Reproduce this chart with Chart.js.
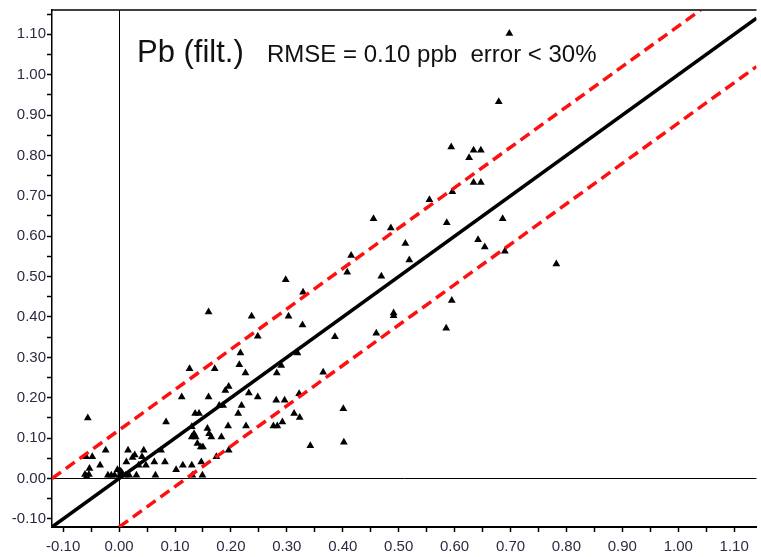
<!DOCTYPE html>
<html>
<head>
<meta charset="utf-8">
<script src="https://cdn.jsdelivr.net/npm/chart.js@4.4.1/dist/chart.umd.min.js"></script>
<style>
  html, body { margin: 0; padding: 0; background: #fff; }
  #wrap { position: relative; width: 761px; height: 557px; }
</style>
</head>
<body>
<div id="wrap"><canvas id="pb"></canvas></div>
<script>
// mesure (x) / modèle (y), en ppb
var measured = [
  -0.056, -0.059, -0.048, -0.053, -0.061, -0.054, -0.058, -0.034, -0.024, -0.020,
  -0.014, -0.008, -0.003, 0.003, 0.001, 0.006, 0.012, 0.018, 0.016, 0.013,
  0.028, 0.024, 0.031, 0.044, 0.041, 0.035, 0.048, 0.065, 0.063, 0.075,
  0.082, 0.084, 0.102, 0.114, 0.112, 0.130, 0.131, 0.149, 0.147, 0.126,
  0.136, 0.143, 0.130, 0.134, 0.130, 0.137, 0.140, 0.146, 0.150, 0.160,
  0.160, 0.158, 0.161, 0.165, 0.174, 0.171, 0.183, 0.179, 0.186, 0.190,
  0.196, 0.195, 0.196, 0.213, 0.219, 0.217, 0.215, 0.226, 0.227, 0.232,
  0.237, 0.248, 0.248, 0.276, 0.283, 0.282, 0.281, 0.290, 0.292, 0.296,
  0.298, 0.303, 0.313, 0.323, 0.319, 0.328, 0.329, 0.322, 0.342, 0.365,
  0.386, 0.401, 0.402, 0.460, 0.408, 0.415, 0.455, 0.469, 0.486, 0.491,
  0.491, 0.512, 0.519, 0.555, 0.585, 0.586, 0.595, 0.596, 0.594, 0.626,
  0.634, 0.647, 0.634, 0.647, 0.642, 0.654, 0.686, 0.690, 0.679, 0.698,
  0.782
];
var modelled = [
  0.150, 0.054, 0.054, 0.025, 0.010, 0.010, 0.005, 0.033, 0.070, 0.008,
  0.008, 0.008, 0.022, 0.018, 0.008, 0.012, 0.008, 0.008, 0.070, 0.041,
  0.058, 0.052, 0.008, 0.070, 0.054, 0.033, 0.033, 0.008, 0.041, 0.070,
  0.041, 0.140, 0.022, 0.033, 0.202, 0.033, 0.008, 0.008, 0.041, 0.272,
  0.161, 0.161, 0.128, 0.111, 0.103, 0.103, 0.087, 0.078, 0.078, 0.412,
  0.202, 0.124, 0.111, 0.103, 0.054, 0.272, 0.103, 0.181, 0.181, 0.218,
  0.228, 0.130, 0.070, 0.161, 0.181, 0.311, 0.282, 0.261, 0.130, 0.212,
  0.402, 0.352, 0.202, 0.130, 0.130, 0.261, 0.194, 0.280, 0.140, 0.194,
  0.492, 0.402, 0.161, 0.151, 0.311, 0.380, 0.461, 0.210, 0.081, 0.263,
  0.351, 0.173, 0.090, 0.360, 0.511, 0.552, 0.643, 0.501, 0.620, 0.410,
  0.403, 0.582, 0.541, 0.690, 0.372, 0.633, 0.441, 0.710, 0.821, 0.794,
  0.813, 0.813, 0.733, 0.733, 0.591, 0.573, 0.643, 0.563, 0.933, 1.102,
  0.531
];

var xTicks = [-0.10, -0.05, 0.00, 0.05, 0.10, 0.15, 0.20, 0.25, 0.30, 0.35, 0.40, 0.45,
  0.50, 0.55, 0.60, 0.65, 0.70, 0.75, 0.80, 0.85, 0.90, 0.95, 1.00, 1.05, 1.10];
var yTicks = [-0.10, -0.05, 0.00, 0.05, 0.10, 0.15, 0.20, 0.25, 0.30, 0.35, 0.40, 0.45,
  0.50, 0.55, 0.60, 0.65, 0.70, 0.75, 0.80, 0.85, 0.90, 0.95, 1.00, 1.05, 1.10, 1.15];

var xMin = -0.12, xMax = 1.14, yMin = -0.12, yMax = 1.16;
var bandOffset = 0.12; // bandes +/- autour de la droite 1:1

/*------------------------------------*\
     Points et droites
\*------------------------------------*/
var points = measured.map(function(x, i) {
  return { x: x, y: modelled[i] };
});

function lineFor(offset) {
  // droite y = x + offset, bornée au cadre
  var x0 = Math.max(xMin, yMin - offset);
  var x1 = Math.min(xMax, yMax - offset);
  return [{ x: x0, y: x0 + offset }, { x: x1, y: x1 + offset }];
}

function labelFor(v) {
  var c = Math.round(v * 100);
  return (c % 10 === 0) ? (c / 100).toFixed(2) : '';
}

function zeroLine(ctx) {
  return (ctx.tick && Math.abs(ctx.tick.value) < 1e-9) ? '#000' : 'rgba(0,0,0,0)';
}

var frameAndTitle = {
  id: 'frameAndTitle',
  afterDraw: function(chart) {
    var c = chart.ctx, a = chart.chartArea;
    c.save();
    c.strokeStyle = '#000';
    c.lineWidth = 1.5;
    c.beginPath();
    c.moveTo(a.left, a.top);
    c.lineTo(a.right, a.top);
    c.stroke();
    c.fillStyle = '#111';
    c.textBaseline = 'alphabetic';
    c.font = '31px "Liberation Sans", Arial, sans-serif';
    c.fillText('Pb (filt.)', 137, 62);
    c.font = '24px "Liberation Sans", Arial, sans-serif';
    c.fillText('RMSE = 0.10 ppb  error < 30%', 267, 62);
    c.restore();
  }
};

var tickFont = { family: '"Liberation Sans", Arial, sans-serif', size: 15 };

new Chart(document.getElementById('pb').getContext('2d'), {
  type: 'scatter',
  data: {
    datasets: [{
      data: lineFor(0),
      showLine: true,
      borderColor: '#000',
      borderWidth: 3.5,
      pointRadius: 0,
      order: 1
    }, {
      data: lineFor(bandOffset),
      showLine: true,
      borderColor: '#ff1010',
      borderWidth: 3.5,
      borderDash: [11, 6],
      pointRadius: 0,
      order: 2
    }, {
      data: lineFor(-bandOffset),
      showLine: true,
      borderColor: '#ff1010',
      borderWidth: 3.5,
      borderDash: [11, 6],
      pointRadius: 0,
      order: 3
    }, {
      data: points,
      pointStyle: 'triangle',
      pointRadius: 4.5,
      backgroundColor: '#000',
      borderColor: '#000',
      borderWidth: 0,
      order: 4
    }]
  },
  options: {
    responsive: true,
    maintainAspectRatio: false,
    animation: false,
    layout: { padding: { top: 9, right: 0, left: 0, bottom: 0 } },
    plugins: {
      legend: { display: false },
      tooltip: { enabled: false }
    },
    scales: {
      x: {
        type: 'linear',
        min: xMin,
        max: xMax,
        afterBuildTicks: function(scale) {
          scale.ticks = xTicks.map(function(v) { return { value: v }; });
        },
        afterFit: function(scale) { scale.height = 30; },
        ticks: {
          autoSkip: false,
          maxRotation: 0,
          padding: 6,
          color: '#2b2b45',
          font: tickFont,
          callback: labelFor
        },
        border: { display: true, color: '#000', width: 2 },
        grid: {
          drawOnChartArea: true,
          color: zeroLine,
          lineWidth: 1,
          tickLength: 5,
          tickColor: '#000',
          tickWidth: 1.5
        }
      },
      y: {
        type: 'linear',
        min: yMin,
        max: yMax,
        afterBuildTicks: function(scale) {
          scale.ticks = yTicks.map(function(v) { return { value: v }; });
        },
        afterFit: function(scale) { scale.width = 52; },
        ticks: {
          autoSkip: false,
          padding: 1,
          color: '#2b2b45',
          font: tickFont,
          callback: labelFor
        },
        border: { display: true, color: '#000', width: 1.5 },
        grid: {
          drawOnChartArea: true,
          color: zeroLine,
          lineWidth: 1,
          tickLength: 5,
          tickColor: '#000',
          tickWidth: 1.5
        }
      }
    }
  },
  plugins: [frameAndTitle]
});
</script>
</body>
</html>
